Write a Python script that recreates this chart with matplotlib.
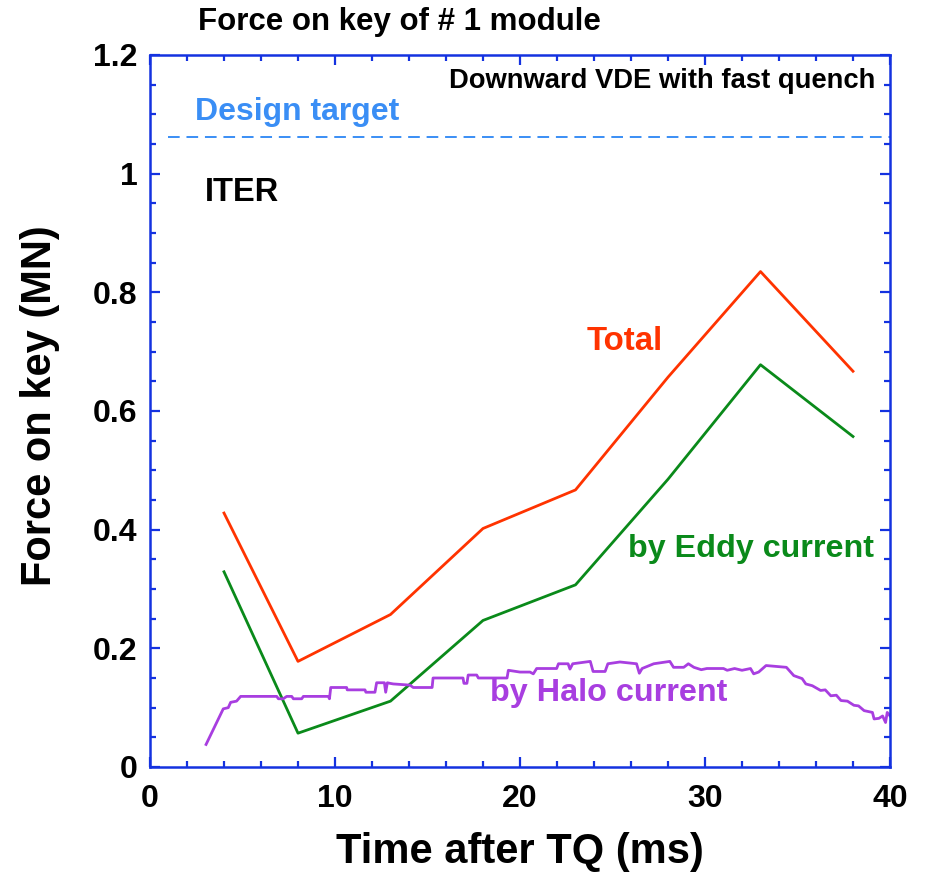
import numpy as np
import matplotlib
matplotlib.use("Agg")
import matplotlib.pyplot as plt
from matplotlib.ticker import MultipleLocator, FixedLocator, FixedFormatter

plt.rcParams['font.family'] = ['Liberation Sans', 'DejaVu Sans']
plt.rcParams['font.weight'] = 'bold'

# data
t_pts = [4, 8, 13, 18, 23, 28, 33, 38]
total = [0.428, 0.178, 0.257, 0.402, 0.467, 0.657, 0.835, 0.667]
eddy = [0.329, 0.057, 0.111, 0.247, 0.307, 0.485, 0.678, 0.557]

halo_t = [3.03, 3.96, 4.23, 4.36, 4.68, 4.90, 6.85, 6.94, 7.2, 7.39, 7.66, 7.75,
          8.2, 8.29, 9.64, 9.7, 9.77, 10.63, 10.66, 11.62, 11.67, 12.16, 12.25,
          12.67, 12.74, 12.83, 12.97, 13.15, 14.05, 14.23, 15.25, 15.3, 16.92,
          16.97, 17.13, 17.2, 17.66, 17.75, 19.3, 19.37, 20.0, 20.54, 20.72,
          20.9, 21.98, 22.08, 22.6, 22.7, 22.85, 23.8, 23.95, 24.6, 24.75, 25.4,
          26.3, 26.45, 26.6, 27.23, 28.1, 28.3, 28.85, 29.1, 29.4, 29.8, 30.1,
          31.0, 31.2, 31.6, 32.0, 32.46, 32.63, 32.9, 33.3, 34.4, 34.8, 35.25,
          35.45, 35.8, 36.25, 36.5, 36.8, 37.1, 37.35, 37.7, 38.05, 38.3, 38.6,
          39.05, 39.14, 39.4, 39.6, 39.76, 39.85, 40.0]
halo_f = [0.038, 0.098, 0.100, 0.109, 0.111, 0.119, 0.119, 0.115, 0.115, 0.119,
          0.119, 0.115, 0.115, 0.119, 0.119, 0.115, 0.134, 0.134, 0.130, 0.130,
          0.126, 0.126, 0.142, 0.142, 0.126, 0.142, 0.141, 0.140, 0.138, 0.134,
          0.134, 0.150, 0.150, 0.141, 0.141, 0.155, 0.155, 0.150, 0.150, 0.163,
          0.160, 0.160, 0.157, 0.166, 0.166, 0.174, 0.174, 0.165, 0.174, 0.178,
          0.161, 0.161, 0.174, 0.177, 0.174, 0.158, 0.166, 0.174, 0.178, 0.168,
          0.168, 0.174, 0.168, 0.164, 0.166, 0.166, 0.163, 0.166, 0.163, 0.166,
          0.157, 0.160, 0.171, 0.168, 0.154, 0.149, 0.140, 0.137, 0.129, 0.130,
          0.120, 0.121, 0.112, 0.111, 0.104, 0.103, 0.095, 0.092, 0.081, 0.082,
          0.086, 0.075, 0.092, 0.086]

design_target = 1.061
y_ticks = [0, 0.2, 0.4, 0.6, 0.8, 1.0, 1.2]
y_labels = ['0', '0.2', '0.4', '0.6', '0.8', '1', '1.2']
x_ticks = [0, 10, 20, 30, 40]
x_labels = ['0', '10', '20', '30', '40']

spine_c = '#1432e0'
red = '#ff3300'
green = '#0a8a1a'
purple = '#a83ee0'
blue = '#3a8ef5'

fig = plt.figure(figsize=(9.26, 8.73), dpi=100)
ax = fig.add_axes([150 / 926, 1 - 767 / 873, 740 / 926, 712 / 873])

ax.plot(t_pts, total, color=red, lw=2.0)
ax.plot(t_pts, eddy, color=green, lw=2.0)
ax.plot(halo_t, halo_f, color=purple, lw=2.0)
ax.plot([0.97, 40], [design_target, design_target], color=blue, lw=1.4,
        dashes=(6, 3.5))

ax.set_xlim(0, 40)
ax.set_ylim(0, 1.2)

ax.xaxis.set_major_locator(FixedLocator(x_ticks))
ax.xaxis.set_major_formatter(FixedFormatter(x_labels))
ax.xaxis.set_minor_locator(MultipleLocator(2))
ax.yaxis.set_major_locator(FixedLocator(y_ticks))
ax.yaxis.set_major_formatter(FixedFormatter(y_labels))
ax.yaxis.set_minor_locator(MultipleLocator(0.05))

for s in ax.spines.values():
    s.set_color(spine_c)
    s.set_linewidth(1.8)
ax.tick_params(which='both', direction='in', top=True, right=True,
               color=spine_c, width=1.6)
ax.tick_params(which='major', length=7.5, labelsize=23)
ax.tick_params(which='minor', length=4.5)
ax.tick_params(axis='x', which='major', pad=12)
ax.tick_params(axis='y', which='major', pad=9)
for lab in ax.get_xticklabels() + ax.get_yticklabels():
    lab.set_fontweight('bold')

ax.text(39.2, 1.157, 'Downward VDE with fast quench', ha='right', va='center',
        fontsize=19.7, fontweight='bold', color='black')
ax.text(2.43, 1.104, 'Design target', ha='left', va='center',
        fontsize=23, fontweight='bold', color=blue)
ax.text(2.97, 0.969, 'ITER', ha='left', va='center',
        fontsize=23.5, fontweight='bold', color='black')
ax.text(23.6, 0.717, 'Total', ha='left', va='center',
        fontsize=23.8, fontweight='bold', color=red)
ax.text(25.85, 0.368, 'by Eddy current', ha='left', va='center',
        fontsize=23.2, fontweight='bold', color=green)
ax.text(18.4, 0.124, 'by Halo current', ha='left', va='center',
        fontsize=23.3, fontweight='bold', color=purple)

fig.text(198 / 926, 1 - 22 / 873, 'Force on key of # 1 module', ha='left',
         va='center', fontsize=22.5, fontweight='bold')
fig.text(520 / 926, 1 - 852 / 873, 'Time after TQ (ms)', ha='center',
         va='center', fontsize=30, fontweight='bold')
fig.text(40 / 926, 1 - 406 / 873, 'Force on key (MN)', ha='center',
         va='center', rotation=90, fontsize=30, fontweight='bold')

fig.savefig('out.png', dpi=100)
